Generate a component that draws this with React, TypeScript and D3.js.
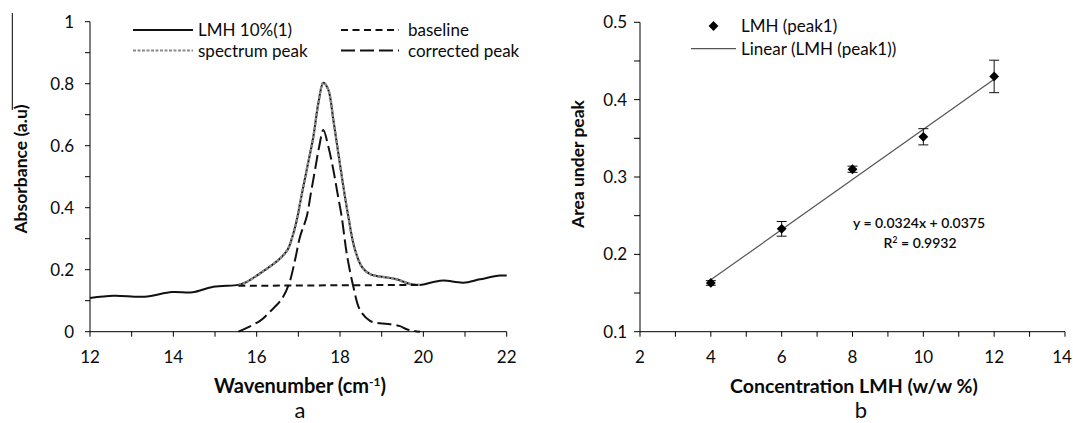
import React from 'react';
import * as d3 from 'd3';

// panel a: LMH 10% spectrum
const spectrumX = [12, 12.57, 13.31, 13.97, 14.46, 14.96, 15.56, 15.72, 16.08, 16.52, 16.74, 16.88, 16.98, 17.04, 17.2, 17.36, 17.48, 17.6, 17.72, 17.84, 17.96, 18.08, 18.2, 18.34, 18.52, 18.72, 19.12, 19.36, 19.68, 19.92, 20.24, 20.48, 20.96, 21.36, 21.84, 22];
const spectrumY = [0.109, 0.116, 0.113, 0.128, 0.127, 0.145, 0.151, 0.158, 0.188, 0.231, 0.264, 0.317, 0.371, 0.414, 0.522, 0.629, 0.737, 0.803, 0.78, 0.683, 0.575, 0.468, 0.371, 0.274, 0.21, 0.186, 0.175, 0.169, 0.154, 0.151, 0.16, 0.165, 0.158, 0.169, 0.181, 0.181];
const peakStart = 15.56;
const peakEnd = 19.92;
const baselineX = [15.56, 19.92];
const baselineY = [0.148, 0.151];
const correctedX = [15.56, 16.08, 16.3, 16.6, 16.78, 16.92, 17.04, 17.2, 17.3, 17.4, 17.5, 17.6, 17.72, 17.84, 17.94, 18.04, 18.16, 18.32, 18.48, 18.72, 18.96, 19.2, 19.44, 19.6, 19.76, 19.92];
const correctedY = [0, 0.035, 0.062, 0.105, 0.156, 0.231, 0.306, 0.371, 0.446, 0.522, 0.597, 0.651, 0.597, 0.522, 0.446, 0.371, 0.253, 0.145, 0.07, 0.035, 0.027, 0.024, 0.018, 0.008, 0.003, 0];
const xTicksA = [12, 14, 16, 18, 20, 22];
const yTicksA = [0, 0.2, 0.4, 0.6, 0.8, 1];

// panel b: calibration
const concentration = [4, 6, 8, 10, 12];
const areaUnderPeak = [0.163, 0.233, 0.31, 0.352, 0.43];
const areaError = [0.003, 0.0095, 0.004, 0.0105, 0.021];
const trendSlope = 0.0324;
const trendIntercept = 0.0375;
const xTicksB = [2, 4, 6, 8, 10, 12, 14];
const yTicksB = [0.1, 0.2, 0.3, 0.4, 0.5];

const FONT = 'Lato, "Open Sans", sans-serif';
const INK = '#0a0a0a';

export default function App() {
  const xA = d3.scaleLinear().domain([12, 22]).range([90, 506.7]);
  const yA = d3.scaleLinear().domain([0, 1]).range([331.7, 21.7]);
  const xB = d3.scaleLinear().domain([2, 14]).range([640, 1065]);
  const yB = d3.scaleLinear().domain([0.1, 0.5]).range([331.7, 22.3]);

  const spec = spectrumX.map((x, i) => [x, spectrumY[i]] as [number, number]);
  const peak = spec.filter(d => d[0] >= peakStart && d[0] <= peakEnd);
  const base = baselineX.map((x, i) => [x, baselineY[i]] as [number, number]);
  const corr = correctedX.map((x, i) => [x, correctedY[i]] as [number, number]);

  const lineA = d3.line<[number, number]>()
    .x(d => xA(d[0]))
    .y(d => yA(d[1]))
    .curve(d3.curveCatmullRom.alpha(0.5));

  const minorA = d3.range(12, 22.01, 1);
  const minorYA = d3.range(0, 1.001, 0.1);
  const minorB = d3.range(2, 14.01, 1);
  const minorYB = d3.range(0.1, 0.5001, 0.05);

  // square turned 45 degrees, as Excel's diamond marker
  const diamond = d3.symbol().type(d3.symbolSquare).size(48)();

  return (
    <div style={{ position: 'absolute', left: 0, top: 0 }}>
      <svg width={1073} height={423} style={{ display: 'block', background: '#fff' }} fontFamily={FONT}>
        {/* ---------- panel a ---------- */}
        <line x1={12.3} x2={12.3} y1={13} y2={110} stroke="#000" strokeWidth={1} />
        <line x1={xA(12)} x2={xA(12)} y1={yA(0)} y2={yA(1)} stroke="#000" />
        <line x1={xA(12)} x2={xA(22)} y1={yA(0)} y2={yA(0)} stroke="#000" />
        {minorYA.map(t => (
          <line key={'ya' + t} x1={xA(12) - 5} x2={xA(12)} y1={yA(t)} y2={yA(t)} stroke="#000" />
        ))}
        {minorA.map(t => (
          <line key={'xa' + t} x1={xA(t)} x2={xA(t)} y1={yA(0)} y2={yA(0) + 5} stroke="#000" />
        ))}
        {yTicksA.map(t => (
          <text key={'yla' + t} x={74} y={yA(t)} dy="0.35em" textAnchor="end" fontSize={17} fill={INK}>{String(t)}</text>
        ))}
        {xTicksA.map(t => (
          <text key={'xla' + t} x={xA(t)} y={362.5} textAnchor="middle" fontSize={17} fill={INK}>{String(t)}</text>
        ))}

        <path d={lineA(spec) || ''} fill="none" stroke="#111" strokeWidth={2} />
        <path d={lineA(peak) || ''} fill="none" stroke="#8a8a8a" strokeWidth={2.4} strokeDasharray="3,1.5" />
        <path d={lineA(base) || ''} fill="none" stroke="#111" strokeWidth={2} strokeDasharray="7,4.5" />
        <path d={lineA(corr) || ''} fill="none" stroke="#111" strokeWidth={2} strokeDasharray="14,5" />

        {/* legend a */}
        <line x1={133} x2={193} y1={30} y2={30} stroke="#111" strokeWidth={2} />
        <text x={198} y={30} dy="0.35em" fontSize={17} fill={INK}>LMH 10%(1)</text>
        <line x1={133} x2={193} y1={50.6} y2={50.6} stroke="#8a8a8a" strokeWidth={2} strokeDasharray="3,1.5" />
        <text x={198} y={50.6} dy="0.35em" fontSize={17} fill={INK}>spectrum peak</text>
        <line x1={341} x2={399} y1={30} y2={30} stroke="#111" strokeWidth={2} strokeDasharray="7,4.5" />
        <text x={408} y={30} dy="0.35em" fontSize={17} fill={INK}>baseline</text>
        <line x1={341} x2={399} y1={50.6} y2={50.6} stroke="#111" strokeWidth={2} strokeDasharray="14,5" />
        <text x={408} y={50.6} dy="0.35em" fontSize={17} fill={INK}>corrected peak</text>

        <text transform="translate(20.7,169) rotate(-90)" textAnchor="middle" dy="0.35em" fontSize={17.5} fontWeight="bold" fill={INK}>Absorbance (a.u)</text>
        <text x={300} y={393} textAnchor="middle" fontSize={20} fontWeight="bold" fill={INK}>
          Wavenumber (cm<tspan dy={-7} fontSize={12}>-1</tspan><tspan dy={7}>)</tspan>
        </text>
        <text x={300} y={418} textAnchor="middle" fontSize={22} fill={INK}>a</text>

        {/* ---------- panel b ---------- */}
        <line x1={xB(2)} x2={xB(2)} y1={yB(0.1)} y2={yB(0.5)} stroke="#000" />
        <line x1={xB(2)} x2={xB(14)} y1={yB(0.1)} y2={yB(0.1)} stroke="#000" />
        {minorYB.map(t => (
          <line key={'yb' + t} x1={xB(2) - 6} x2={xB(2)} y1={yB(t)} y2={yB(t)} stroke="#000" />
        ))}
        {minorB.map(t => (
          <line key={'xb' + t} x1={xB(t)} x2={xB(t)} y1={yB(0.1)} y2={yB(0.1) + 5} stroke="#000" />
        ))}
        {yTicksB.map(t => (
          <text key={'ylb' + t} x={627} y={yB(t)} dy="0.35em" textAnchor="end" fontSize={17} fill={INK}>{String(t)}</text>
        ))}
        {xTicksB.map(t => (
          <text key={'xlb' + t} x={Math.min(xB(t), 1062)} y={362.5} textAnchor="middle" fontSize={17} fill={INK}>{String(t)}</text>
        ))}

        <line
          x1={xB(concentration[0])}
          x2={xB(concentration[concentration.length - 1])}
          y1={yB(trendSlope * concentration[0] + trendIntercept)}
          y2={yB(trendSlope * concentration[concentration.length - 1] + trendIntercept)}
          stroke="#555" strokeWidth={1.2}
        />
        {concentration.map((c, i) => (
          <g key={'pt' + c}>
            <line x1={xB(c)} x2={xB(c)} y1={yB(areaUnderPeak[i] + areaError[i])} y2={yB(areaUnderPeak[i] - areaError[i])} stroke="#111" />
            <line x1={xB(c) - 5} x2={xB(c) + 5} y1={yB(areaUnderPeak[i] + areaError[i])} y2={yB(areaUnderPeak[i] + areaError[i])} stroke="#111" />
            <line x1={xB(c) - 5} x2={xB(c) + 5} y1={yB(areaUnderPeak[i] - areaError[i])} y2={yB(areaUnderPeak[i] - areaError[i])} stroke="#111" />
            <path d={diamond || ''} transform={`translate(${xB(c)},${yB(areaUnderPeak[i])}) rotate(45)`} fill="#000" />
          </g>
        ))}

        {/* legend b */}
        <path d={diamond || ''} transform="translate(713.5,26) rotate(45)" fill="#000" />
        <text x={741} y={26} dy="0.35em" fontSize={17} fill={INK}>LMH (peak1)</text>
        <line x1={691} x2={736} y1={48.6} y2={48.6} stroke="#555" strokeWidth={1.2} />
        <text x={741} y={48.6} dy="0.35em" fontSize={17} fill={INK}>Linear (LMH (peak1))</text>

        <text x={919} y={223} dy="0.35em" textAnchor="middle" fontSize={14} fontWeight={600} fill={INK}>y = 0.0324x  + 0.0375</text>
        <text x={920} y={243.5} dy="0.35em" textAnchor="middle" fontSize={14} fontWeight={600} fill={INK}>
          R<tspan dy={-5} fontSize={9}>2</tspan><tspan dy={5}> = 0.9932</tspan>
        </text>

        <text transform="translate(578,164) rotate(-90)" textAnchor="middle" dy="0.35em" fontSize={17.5} fontWeight="bold" fill={INK}>Area under peak</text>
        <text x={854} y={393} textAnchor="middle" fontSize={19.5} fontWeight="bold" fill={INK}>Concentration LMH (w/w %)</text>
        <text x={861} y={418} textAnchor="middle" fontSize={22} fill={INK}>b</text>
      </svg>
    </div>
  );
}
